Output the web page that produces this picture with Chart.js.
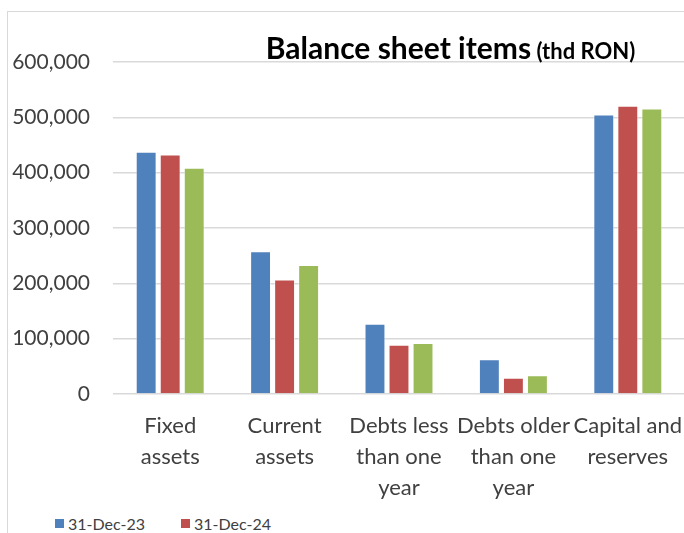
<!DOCTYPE html>
<html>
<head>
<meta charset="utf-8">
<script src="https://cdn.jsdelivr.net/npm/chart.js@4.4.1/dist/chart.umd.min.js"></script>
<style>
  html, body { margin: 0; padding: 0; background: #fff; overflow: hidden; }
  #frame {
    position: absolute; left: 7px; top: 11px; width: 720px; height: 560px;
    border-left: 1px solid #d9d9d9; border-top: 1px solid #d9d9d9;
  }
  #chart { position: absolute; left: 0; top: 0; }
  #legend {
    position: absolute; left: 47px; top: 500px; width: 260px;
    font-family: Lato, sans-serif; font-size: 16px; color: #404040;
  }
  .item { display: inline-flex; align-items: center; height: 22px; margin-right: 36px; }
  .swatch { width: 9px; height: 9px; margin-right: 4px; }
</style>
</head>
<body>
<div id="frame">
  <canvas id="chart" width="690" height="500"></canvas>
  <div id="legend"></div>
</div>
<script>
// categories and series (thd RON)
const categories = [
  ['Fixed', 'assets'],
  ['Current', 'assets'],
  ['Debts less', 'than one', 'year'],
  ['Debts older', 'than one', 'year'],
  ['Capital and', 'reserves']
];
const periods = ['31-Dec-23', '31-Dec-24', '30-Jun-25'];
const dec23 = [438000, 258000, 127000, 63000, 505000];
const dec24 = [433000, 207000, 89000, 29500, 521000];
const jun25 = [409000, 233000, 92000, 34000, 516000];
const yTicks = [0, 100000, 200000, 300000, 400000, 500000, 600000];
const colors = ['#4f81bd', '#c0504d', '#9bbb59'];

const labelColor = '#404040';
const baseFont = 'Lato, sans-serif';

// title with a smaller unit part, drawn over the plot top
const sheetTitle = {
  id: 'sheetTitle',
  afterDraw(chart) {
    const ctx = chart.ctx;
    const main = 'Balance sheet items';
    const unit = ' (thd RON)';
    ctx.save();
    ctx.fillStyle = '#000';
    ctx.textBaseline = 'alphabetic';
    ctx.textAlign = 'left';
    ctx.font = 'bold 30px ' + baseFont;
    const w1 = ctx.measureText(main).width;
    ctx.font = 'bold 22px ' + baseFont;
    const w2 = ctx.measureText(unit).width;
    const x0 = 442.5 - (w1 + w2) / 2;
    ctx.font = 'bold 30px ' + baseFont;
    ctx.fillText(main, x0, 46.5);
    ctx.font = 'bold 22px ' + baseFont;
    ctx.fillText(unit, x0 + w1, 46.5);
    ctx.restore();
  }
};

const seriesData = [dec23, dec24, jun25];

const chart = new Chart(document.getElementById('chart'), {
  type: 'bar',
  data: {
    labels: categories,
    datasets: periods.map((p, i) => ({
      label: p,
      data: seriesData[i],
      backgroundColor: colors[i],
      borderColor: 'rgba(255,255,255,0.45)',
      borderWidth: 1,
      categoryPercentage: 0.63,
      barPercentage: 0.87
    }))
  },
  options: {
    responsive: false,
    animation: false,
    layout: { padding: { top: 50, right: 13, left: 0, bottom: 0 } },
    plugins: {
      legend: { display: false },
      title: { display: false },
      tooltip: { enabled: false }
    },
    scales: {
      x: {
        grid: { display: false },
        border: { display: false },
        ticks: {
          color: labelColor,
          font: { family: baseFont, size: 22, lineHeight: 31 / 22 },
          padding: 8,
          maxRotation: 0,
          autoSkip: false
        },
        afterFit(scale) { scale.height = 118; }
      },
      y: {
        min: 0,
        max: 600000,
        afterBuildTicks(scale) { scale.ticks = yTicks.map(v => ({ value: v })); },
        grid: { color: '#d9d9d9', lineWidth: 1.5, drawTicks: false },
        border: { display: false },
        ticks: {
          color: labelColor,
          font: { family: baseFont, size: 21 },
          padding: 23,
          callback: v => v.toLocaleString('en-US')
        },
        afterFit(scale) { scale.width = 105; }
      }
    }
  },
  plugins: [sheetTitle]
});

// legend built from the datasets
const legendEl = document.getElementById('legend');
chart.data.datasets.forEach(ds => {
  const item = document.createElement('span');
  item.className = 'item';
  const sw = document.createElement('span');
  sw.className = 'swatch';
  sw.style.background = ds.backgroundColor;
  item.appendChild(sw);
  item.appendChild(document.createTextNode(ds.label));
  legendEl.appendChild(item);
});
</script>
</body>
</html>
